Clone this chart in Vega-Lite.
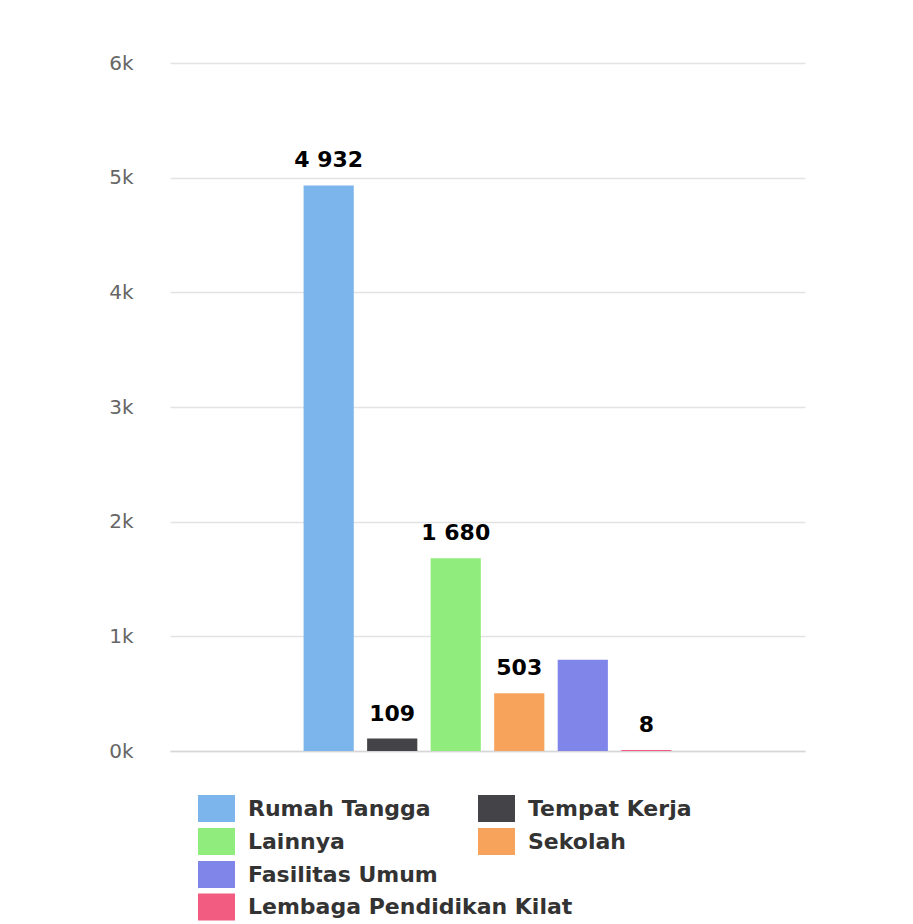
{
  "$schema": "https://vega.github.io/schema/vega-lite/v6.json",
  "autosize": "none",
  "width": 635,
  "height": 688,
  "padding": {"left": 170, "top": 63, "right": 108, "bottom": 173},
  "background": "#ffffff",
  "config": {
    "font": "DejaVu Sans",
    "view": {"stroke": null},
    "axis": {"labelFont": "DejaVu Sans"},
    "legend": {"labelFont": "DejaVu Sans"}
  },
  "data": {
    "values": [
      {"kategori": "Rumah Tangga", "jumlah": 4932, "label": "4 932"},
      {"kategori": "Tempat Kerja", "jumlah": 109, "label": "109"},
      {"kategori": "Lainnya", "jumlah": 1680, "label": "1 680"},
      {"kategori": "Sekolah", "jumlah": 503, "label": "503"},
      {"kategori": "Fasilitas Umum", "jumlah": 796, "label": null},
      {"kategori": "Lembaga Pendidikan Kilat", "jumlah": 8, "label": "8"}
    ]
  },
  "encoding": {
    "x": {
      "datum": "Kasus",
      "type": "nominal",
      "scale": {"paddingInner": 0, "paddingOuter": 0.333},
      "axis": {
        "title": null,
        "labels": false,
        "grid": false,
        "ticks": false,
        "domain": true,
        "domainColor": "#d6d6d6",
        "domainWidth": 1.5
      }
    },
    "xOffset": {
      "field": "kategori",
      "type": "nominal",
      "sort": ["Rumah Tangga", "Tempat Kerja", "Lainnya", "Sekolah", "Fasilitas Umum", "Lembaga Pendidikan Kilat"],
      "scale": {"paddingInner": 0.21, "paddingOuter": 0.105}
    },
    "y": {
      "field": "jumlah",
      "type": "quantitative",
      "scale": {"domain": [0, 6000], "nice": false},
      "axis": {
        "title": null,
        "values": [0, 1000, 2000, 3000, 4000, 5000, 6000],
        "labelExpr": "(datum.value / 1000) + 'k'",
        "labelFontSize": 20,
        "labelColor": "#666666",
        "labelPadding": 37,
        "ticks": false,
        "tickSize": 0,
        "domain": false,
        "grid": true,
        "gridColor": "#e3e3e3",
        "gridWidth": 1.5
      }
    }
  },
  "layer": [
    {
      "mark": {"type": "bar"},
      "encoding": {
        "color": {
          "field": "kategori",
          "type": "nominal",
          "scale": {
            "domain": ["Rumah Tangga", "Tempat Kerja", "Lainnya", "Sekolah", "Fasilitas Umum", "Lembaga Pendidikan Kilat"],
            "range": ["#7cb5ec", "#434348", "#90ed7d", "#f7a35c", "#8085e9", "#f15c80"]
          },
          "legend": {
            "orient": "none",
            "legendX": 33,
            "legendY": 732,
            "title": null,
            "direction": "horizontal",
            "columns": 2,
            "columnPadding": 40,
            "rowPadding": 6,
            "padding": 0,
            "values": ["Rumah Tangga", "Tempat Kerja", "Lainnya", "Sekolah", "Fasilitas Umum"],
            "symbolType": "M-1.37,-1L1.37,-1L1.37,1L-1.37,1Z",
            "symbolSize": 729,
            "symbolStrokeWidth": 0,
            "symbolOpacity": 1,
            "labelFontSize": 22,
            "labelFontWeight": "bold",
            "labelColor": "#333333",
            "labelOffset": 18,
            "labelLimit": 0
          }
        }
      }
    },
    {
      "transform": [{"filter": "datum.kategori === 'Lembaga Pendidikan Kilat'"}],
      "mark": {"type": "bar", "opacity": 0, "fill": "#f15c80"},
      "encoding": {
        "stroke": {
          "field": "kategori",
          "type": "nominal",
          "scale": {"domain": ["Lembaga Pendidikan Kilat"], "range": ["#f15c80"]},
          "legend": {
            "orient": "none",
            "legendX": 33,
            "legendY": 830.5,
            "title": null,
            "padding": 0,
            "symbolType": "M-1.37,-1L1.37,-1L1.37,1L-1.37,1Z",
            "symbolSize": 729,
            "symbolFillColor": "#f15c80",
            "symbolStrokeColor": "#f15c80",
            "symbolStrokeWidth": 0,
            "symbolOpacity": 1,
            "labelFontSize": 22,
            "labelFontWeight": "bold",
            "labelColor": "#333333",
            "labelOffset": 18,
            "labelLimit": 0
          }
        }
      }
    },
    {
      "transform": [{"filter": "datum.label != null"}],
      "mark": {"type": "text", "baseline": "alphabetic", "dy": -18, "fontSize": 22, "fontWeight": "bold", "color": "#000000"},
      "encoding": {
        "text": {"field": "label", "type": "nominal"}
      }
    }
  ]
}
